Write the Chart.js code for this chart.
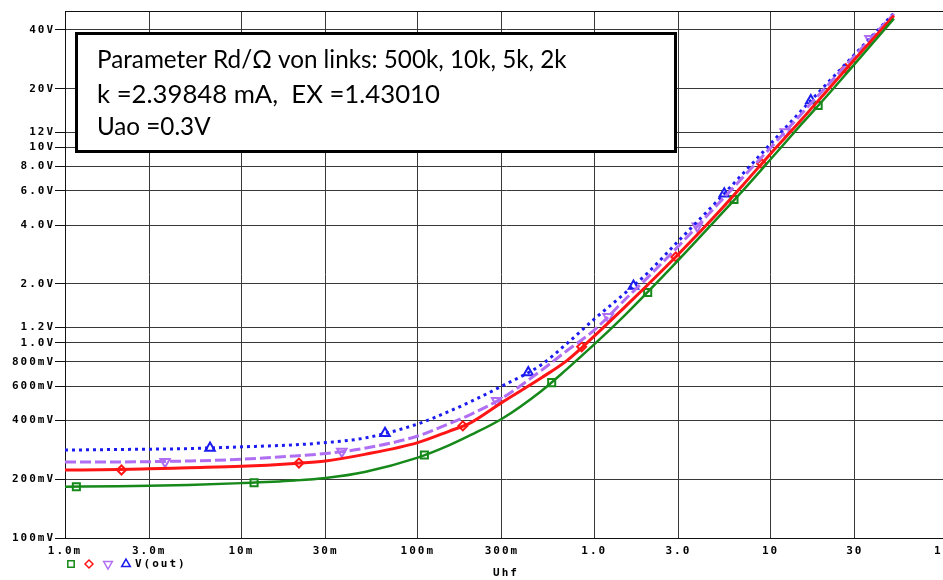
<!DOCTYPE html>
<html>
<head>
<meta charset="utf-8">
<script src="https://cdn.jsdelivr.net/npm/chart.js@4.4.1/dist/chart.umd.min.js"></script>
<style>
  html, body { margin: 0; padding: 0; background: #fff; overflow: hidden; }
  #plot { display: block; }
</style>
</head>
<body>
<canvas id="plot" width="970" height="580"></canvas>
<script>
// sweep of Uhf (V)
var uhf = [0.001, 0.002, 0.003, 0.005, 0.01, 0.02, 0.03, 0.05, 0.1, 0.15, 0.2, 0.3, 0.5, 0.7, 1, 1.5, 2, 3, 5, 7, 10, 15, 20, 30, 50];

// V(out) for the four Rd values
var vRd2k   = [0.183, 0.184, 0.185, 0.187, 0.191, 0.197, 0.203, 0.218, 0.258, 0.298, 0.337, 0.408, 0.565, 0.733, 0.98, 1.39, 1.81, 2.65, 4.35, 6.05, 8.7, 13.2, 17.6, 26.8, 45.7];
var vRd5k   = [0.223, 0.224, 0.226, 0.229, 0.233, 0.241, 0.248, 0.268, 0.308, 0.352, 0.39, 0.495, 0.66, 0.81, 1.08, 1.53, 1.97, 2.84, 4.6, 6.45, 9.3, 13.9, 18.7, 28.3, 47.3];
var vRd10k  = [0.245, 0.245, 0.246, 0.248, 0.253, 0.263, 0.271, 0.288, 0.333, 0.385, 0.43, 0.52, 0.72, 0.91, 1.16, 1.67, 2.15, 3.12, 5.1, 7.07, 9.98, 14.9, 19.8, 29.5, 48.3];
var vRd500k = [0.282, 0.284, 0.285, 0.287, 0.293, 0.300, 0.308, 0.325, 0.384, 0.445, 0.50, 0.60, 0.77, 0.99, 1.32, 1.80, 2.27, 3.32, 5.33, 7.38, 10.45, 15.5, 20.4, 30.0, 48.7];

// trace markers
var mk2kX   = [0.00116, 0.0118, 0.109, 0.574, 2.01, 6.20, 18.6];
var mk2kY   = [0.183, 0.192, 0.266, 0.625, 1.81, 5.41, 16.4];
var mk5kX   = [0.00209, 0.0212, 0.180, 0.849, 2.90, 8.90, 26.7];
var mk5kY   = [0.223, 0.242, 0.375, 0.954, 2.75, 8.26, 25.3];
var mk10kX  = [0.00369, 0.0371, 0.280, 1.20, 3.84, 12.1, 36.6];
var mk10kY  = [0.246, 0.277, 0.504, 1.36, 3.95, 12.0, 36.0];
var mk500kX = [0.00664, 0.0652, 0.423, 1.67, 5.46, 16.9];
var mk500kY = [0.289, 0.344, 0.703, 1.95, 5.80, 17.4];

// axis ticks
var xTicks  = [0.001, 0.003, 0.01, 0.03, 0.1, 0.3, 1, 3, 10, 30, 100];
var xLabels = ['1.0m', '3.0m', '10m', '30m', '100m', '300m', '1.0', '3.0', '10', '30', '100'];
var yTicks  = [0.1, 0.2, 0.4, 0.6, 0.8, 1.0, 1.2, 2, 4, 6, 8, 10, 12, 20, 40];
var yLabels = ['100mV', '200mV', '400mV', '600mV', '800mV', '1.0V', '1.2V', '2.0V', '4.0V', '6.0V', '8.0V', '10V', '12V', '20V', '40V'];

var notes = ['Parameter Rd/\u03A9 von links: 500k, 10k, 5k, 2k', 'k =2.39848 mA,  EX =1.43010', 'Uao =0.3V'];

var GREEN = '#16891a', RED = '#ff1515', VIOLET = '#b06ef2', BLUE = '#1c1cf0';
var AXFONT = { family: 'DejaVu Sans Mono', size: 11, weight: 'bold' };

function pts(xs, ys) {
  return xs.map(function (x, i) { return { x: x, y: ys[i] }; });
}

function trace(ys, color, width, dash) {
  return {
    data: pts(uhf, ys), borderColor: color, borderWidth: width, borderDash: dash,
    pointRadius: 0, cubicInterpolationMode: 'monotone', fill: false
  };
}

function marks(xs, ys, color, style, r, rot) {
  return {
    data: pts(xs, ys), showLine: false, pointStyle: style, pointRadius: r, rotation: rot || 0,
    pointBorderColor: color, pointBackgroundColor: '#fff', pointBorderWidth: 2
  };
}

// wide monospace look for the axis text
var spacing = {
  id: 'spacing',
  beforeUpdate: function (chart) { chart.ctx.letterSpacing = '2px'; },
  beforeDraw: function (chart) { chart.ctx.letterSpacing = '2px'; }
};

var frame = {
  id: 'frame',
  beforeDatasetsDraw: function (chart) {
    var a = chart.chartArea, ctx = chart.ctx;
    ctx.save();
    ctx.strokeStyle = '#111';
    ctx.lineWidth = 1;
    ctx.strokeRect(a.left + 0.5, a.top + 0.5, a.right - a.left, a.bottom - a.top);
    ctx.restore();
  }
};

var extras = {
  id: 'extras',
  afterDraw: function (chart) {
    var ctx = chart.ctx;
    ctx.save();

    // text box
    ctx.letterSpacing = '0px';
    ctx.fillStyle = '#fff';
    ctx.fillRect(75, 32, 602, 121);
    ctx.lineWidth = 3;
    ctx.strokeStyle = '#000';
    ctx.strokeRect(76.5, 33.5, 599, 118);

    function fit(text, w) {
      ctx.font = '100px Lato';
      return 100 * w / ctx.measureText(text).width;
    }
    var s1 = fit(notes[0], 470), s2 = fit(notes[1], 343);
    ctx.fillStyle = '#000';
    ctx.textBaseline = 'alphabetic';
    ctx.textAlign = 'left';
    ctx.font = s1 + 'px Lato';
    ctx.fillText(notes[0], 97, 68);
    ctx.font = s2 + 'px Lato';
    ctx.fillText(notes[1], 97, 103);
    ctx.font = s1 + 'px Lato';
    ctx.fillText(notes[2], 97, 135);

    // trace legend
    var H = Chart.helpers;
    var y = 564;
    var syms = [
      { c: GREEN, s: 'rect', r: 4.5, rot: 0, x: 71 },
      { c: RED, s: 'rectRot', r: 4, rot: 0, x: 89 },
      { c: VIOLET, s: 'triangle', r: 5, rot: 180, x: 108 },
      { c: BLUE, s: 'triangle', r: 5, rot: 0, x: 126 }
    ];
    syms.forEach(function (m) {
      ctx.fillStyle = '#fff';
      ctx.strokeStyle = m.c;
      ctx.lineWidth = 1.5;
      H.drawPoint(ctx, { pointStyle: m.s, radius: m.r, rotation: m.rot, borderWidth: 1.5 }, m.x, y);
    });
    ctx.letterSpacing = '2px';
    ctx.fillStyle = '#000';
    ctx.font = 'bold 11px "DejaVu Sans Mono"';
    ctx.textBaseline = 'middle';
    ctx.fillText('V(out)', 135, y);
    ctx.restore();
  }
};

new Chart(document.getElementById('plot'), {
  type: 'line',
  data: {
    datasets: [
      trace(vRd2k, GREEN, 2.5, []),
      trace(vRd5k, RED, 3, []),
      trace(vRd10k, VIOLET, 3, [11, 4]),
      trace(vRd500k, BLUE, 3, [3, 4]),
      marks(mk2kX, mk2kY, GREEN, 'rect', 5),
      marks(mk5kX, mk5kY, RED, 'rectRot', 4.5),
      marks(mk10kX, mk10kY, VIOLET, 'triangle', 5.5, 180),
      marks(mk500kX, mk500kY, BLUE, 'triangle', 5.5)
    ]
  },
  options: {
    responsive: false,
    animation: false,
    layout: { padding: { top: 11, right: 23, left: 0, bottom: 0 } },
    plugins: { legend: { display: false }, tooltip: { enabled: false } },
    scales: {
      x: {
        type: 'logarithmic', min: 0.001, max: 100,
        afterBuildTicks: function (s) { s.ticks = xTicks.map(function (v) { return { value: v }; }); },
        afterFit: function (s) { s.height = 42; },
        grid: { color: '#383838', lineWidth: 1, drawTicks: false },
        border: { display: true, color: '#111', width: 1 },
        ticks: {
          autoSkip: false, maxRotation: 0, padding: 7, color: '#000', font: AXFONT,
          callback: function (v, i) { return xLabels[i]; }
        },
        title: { display: true, text: 'Uhf', color: '#000', font: AXFONT, padding: { top: 0, bottom: 0 } }
      },
      y: {
        type: 'logarithmic', min: 0.1, max: 50,
        afterBuildTicks: function (s) { s.ticks = yTicks.map(function (v) { return { value: v }; }); },
        afterFit: function (s) { s.width = 65; },
        grid: { color: '#383838', lineWidth: 1, drawTicks: true, tickLength: 10, tickColor: '#111' },
        border: { display: true, color: '#111', width: 1 },
        ticks: {
          autoSkip: false, padding: 0, color: '#000', font: AXFONT,
          callback: function (v, i) { return yLabels[i]; }
        }
      }
    }
  },
  plugins: [spacing, frame, extras]
});
</script>
</body>
</html>
